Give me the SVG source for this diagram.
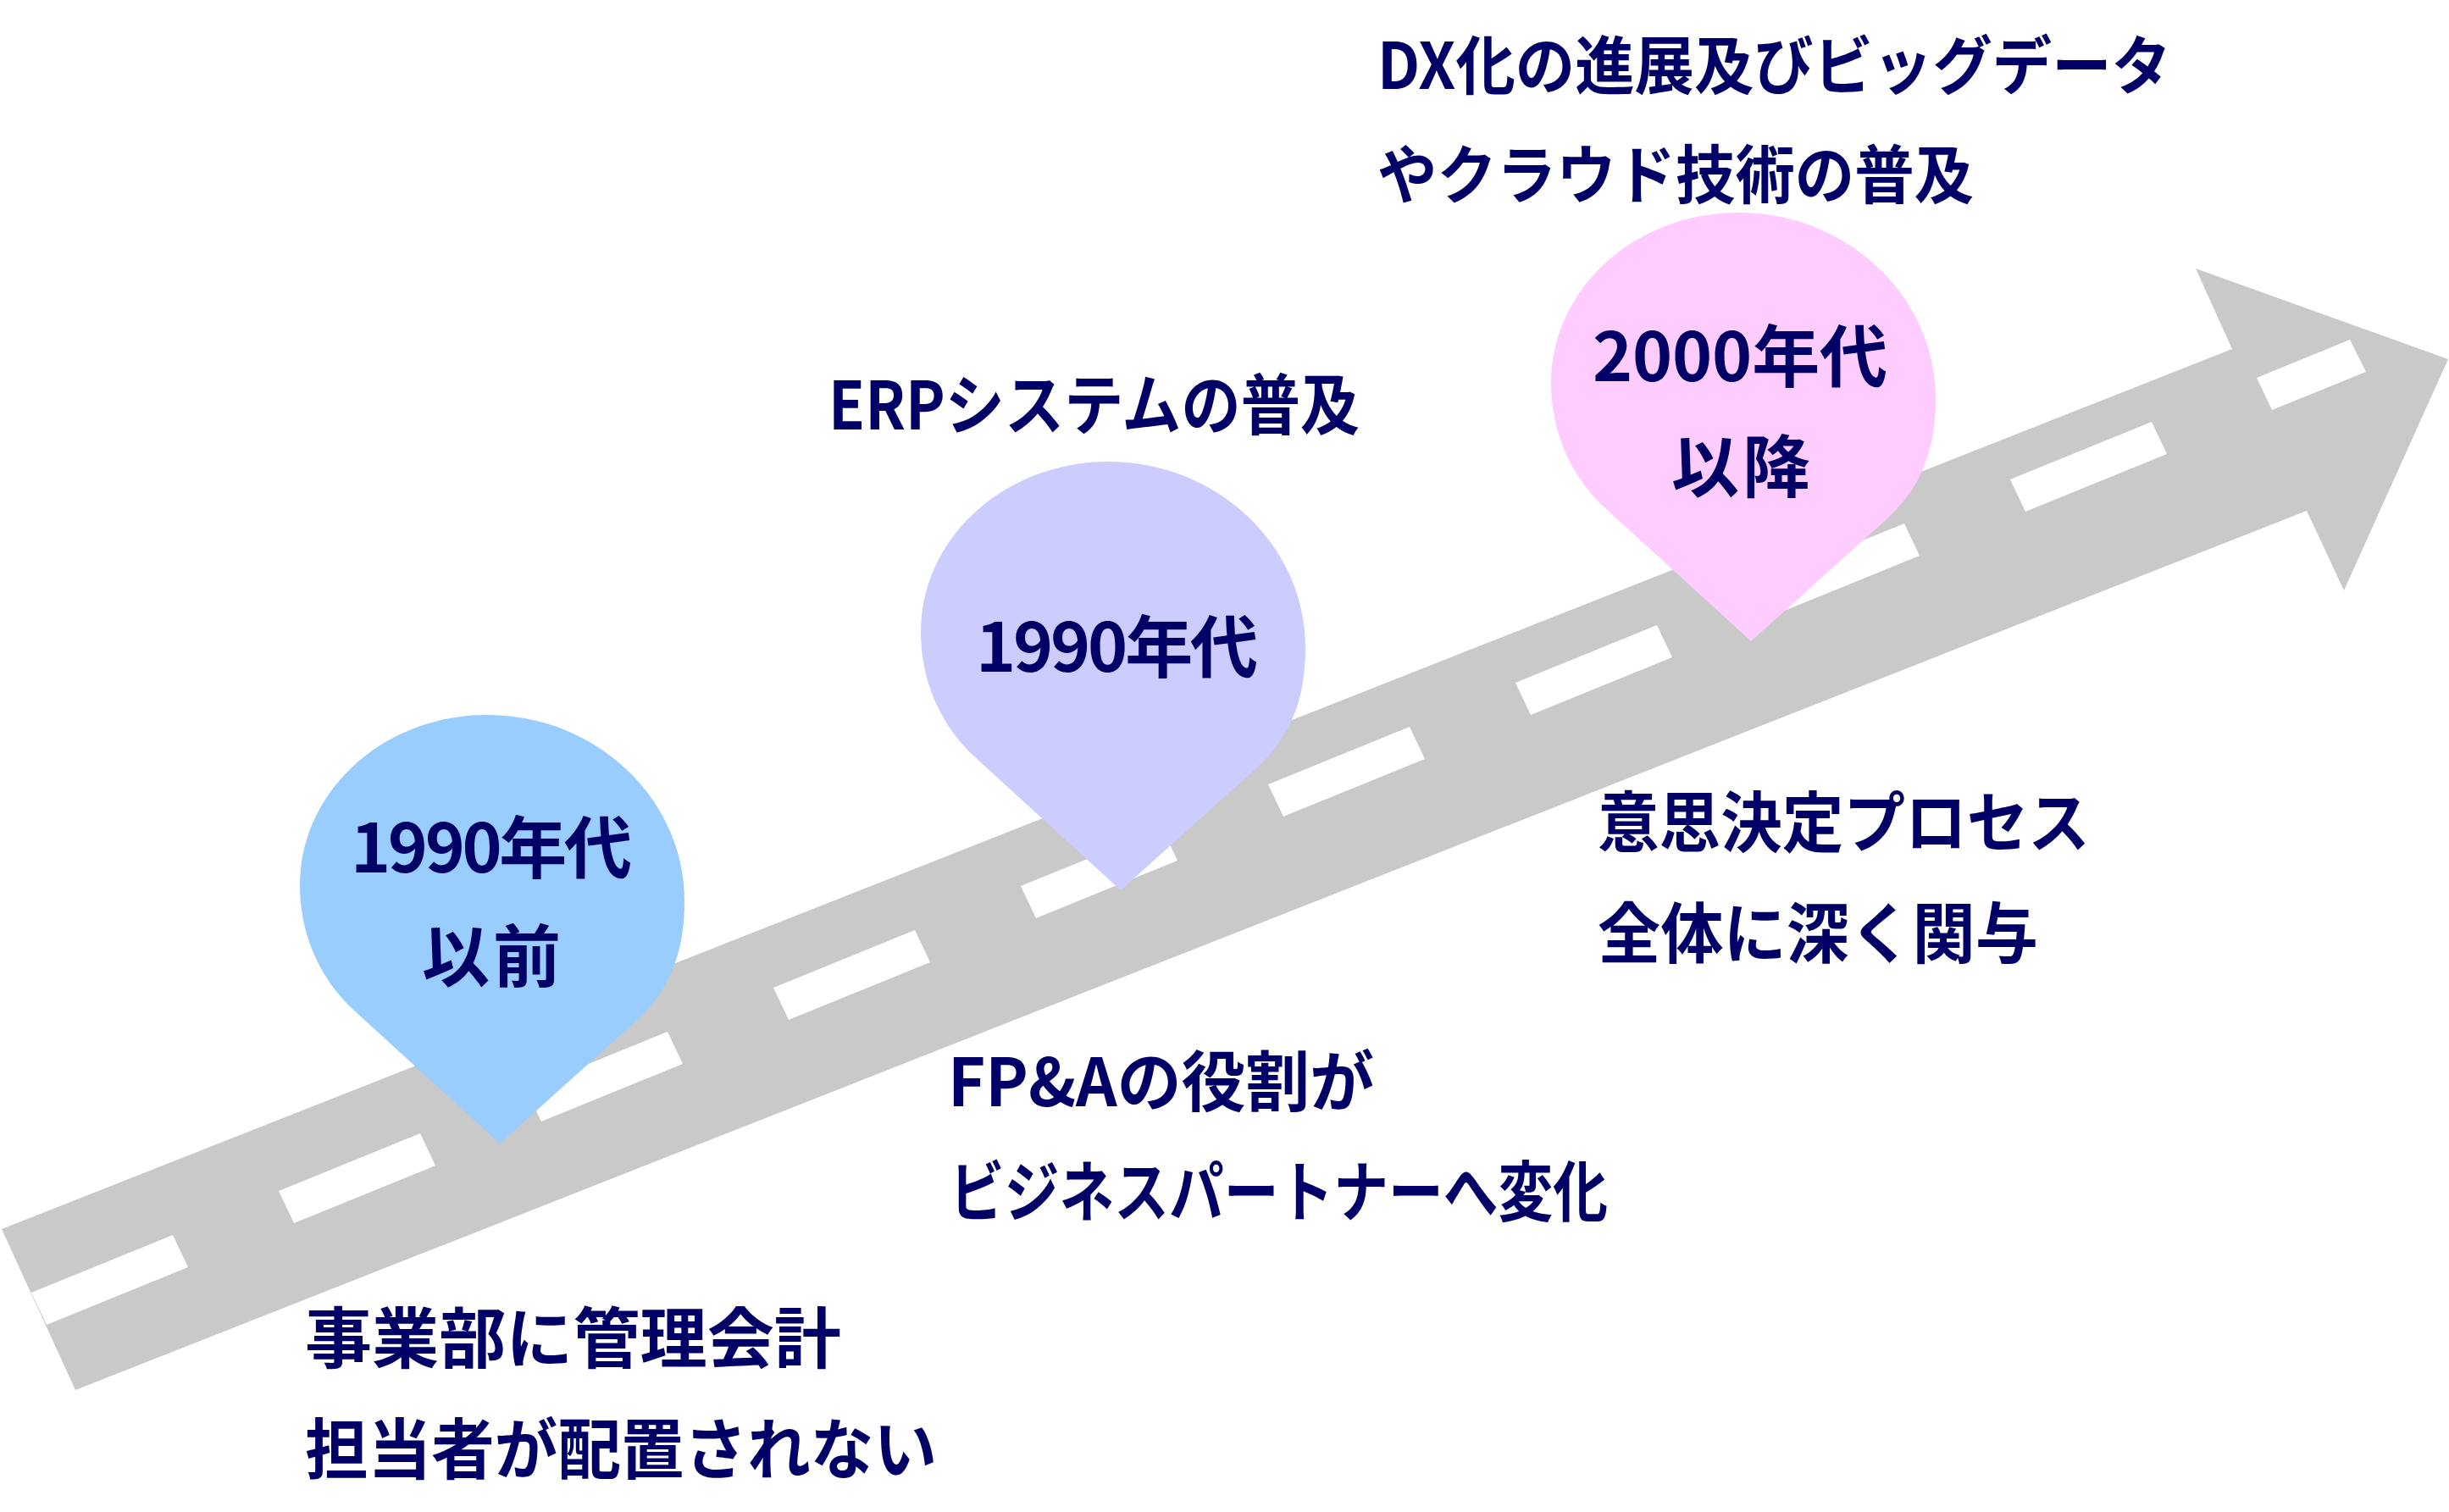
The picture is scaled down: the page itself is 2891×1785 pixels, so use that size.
<svg xmlns="http://www.w3.org/2000/svg" xmlns:xlink="http://www.w3.org/1999/xlink" width="2891" height="1785" viewBox="0 0 2891 1785">
  <style>
    .road { fill: #C9C9C9; }
    .dash { fill: #FFFFFF; }
    .t { font-family: "Noto Sans CJK JP", "Noto Sans", sans-serif; font-weight: 700; font-size: 78px; fill: #000066; }
    .p { font-size: 80px; }
    .d { font-size: 75px; }
  </style>
  <defs>
    <polygon id="dash" class="dash" points="0,0 167,-68 185,-30 18,38"/>
    <polygon id="dashShort" class="dash" points="0,0 110,-45 129,-7 18,38"/>
    <path id="pin" d="M0,0 L-173,-158 C-214,-196 -236,-249 -236,-305 C-236,-416 -137,-506 -15,-506 C114,-506 218,-407 218,-286 C218,-235 206,-186 160,-144 Z"/>
  </defs>
  <rect width="2891" height="1785" fill="#FFFFFF"/>

  <g id="connectors">
    <g id="road">
      <polygon class="road" points="2,1451 2635,412 2592,317 2890,424 2767,697 2723,603 89,1641"/>
      <use xlink:href="#dash" x="37" y="1526"/>
      <use xlink:href="#dash" x="329" y="1406"/>
      <use xlink:href="#dash" x="621" y="1286"/>
      <use xlink:href="#dash" x="913" y="1166"/>
      <use xlink:href="#dash" x="1205" y="1046"/>
      <use xlink:href="#dash" x="1497" y="926"/>
      <use xlink:href="#dash" x="1789" y="806"/>
      <use xlink:href="#dash" x="2081" y="686"/>
      <use xlink:href="#dash" x="2373" y="566"/>
      <use xlink:href="#dashShort" x="2664" y="446"/>
    </g>
  </g>

  <g id="pin-1990-before">
    <use xlink:href="#pin" x="590" y="1350" fill="#99CCFF"/>
    <text class="t p" x="414" y="1030" textLength="332" lengthAdjust="spacing">1990年代</text>
    <text class="t p" x="498" y="1158" textLength="164" lengthAdjust="spacing">以前</text>
  </g>

  <g id="pin-1990s">
    <use xlink:href="#pin" x="1323" y="1051" fill="#CCCCFF"/>
    <text class="t p" x="1152" y="793" textLength="333" lengthAdjust="spacing">1990年代</text>
  </g>

  <g id="pin-2000s">
    <use xlink:href="#pin" x="2067" y="757" fill="#FFCCFF"/>
    <text class="t p" x="1880" y="450" textLength="348" lengthAdjust="spacing">2000年代</text>
    <text class="t p" x="1973" y="580" textLength="164" lengthAdjust="spacing">以降</text>
  </g>

  <g id="note-before">
    <text class="t" x="360" y="1609" textLength="633" lengthAdjust="spacingAndGlyphs">事業部に管理会計</text>
    <text class="t" x="360" y="1740" textLength="746" lengthAdjust="spacingAndGlyphs">担当者が配置されない</text>
  </g>

  <g id="note-erp">
    <text class="t" x="978" y="507" textLength="627" lengthAdjust="spacingAndGlyphs">ERPシステムの普及</text>
  </g>

  <g id="note-fpa">
    <text class="t" x="1119" y="1306" textLength="503" lengthAdjust="spacingAndGlyphs">FP&amp;Aの役割が</text>
    <text class="t" x="1121" y="1436" textLength="777" lengthAdjust="spacingAndGlyphs">ビジネスパートナーへ変化</text>
  </g>

  <g id="note-decision">
    <text class="t" x="1886" y="1000" textLength="581" lengthAdjust="spacingAndGlyphs">意思決定プロセス</text>
    <text class="t" x="1886" y="1131" textLength="520" lengthAdjust="spacingAndGlyphs">全体に深く関与</text>
  </g>

  <g id="note-dx">
    <text class="t d" x="1626" y="105" textLength="937" lengthAdjust="spacingAndGlyphs">DX化の進展及びビッグデータ</text>
    <text class="t d" x="1626" y="234" textLength="704" lengthAdjust="spacingAndGlyphs">やクラウド技術の普及</text>
  </g>
</svg>
